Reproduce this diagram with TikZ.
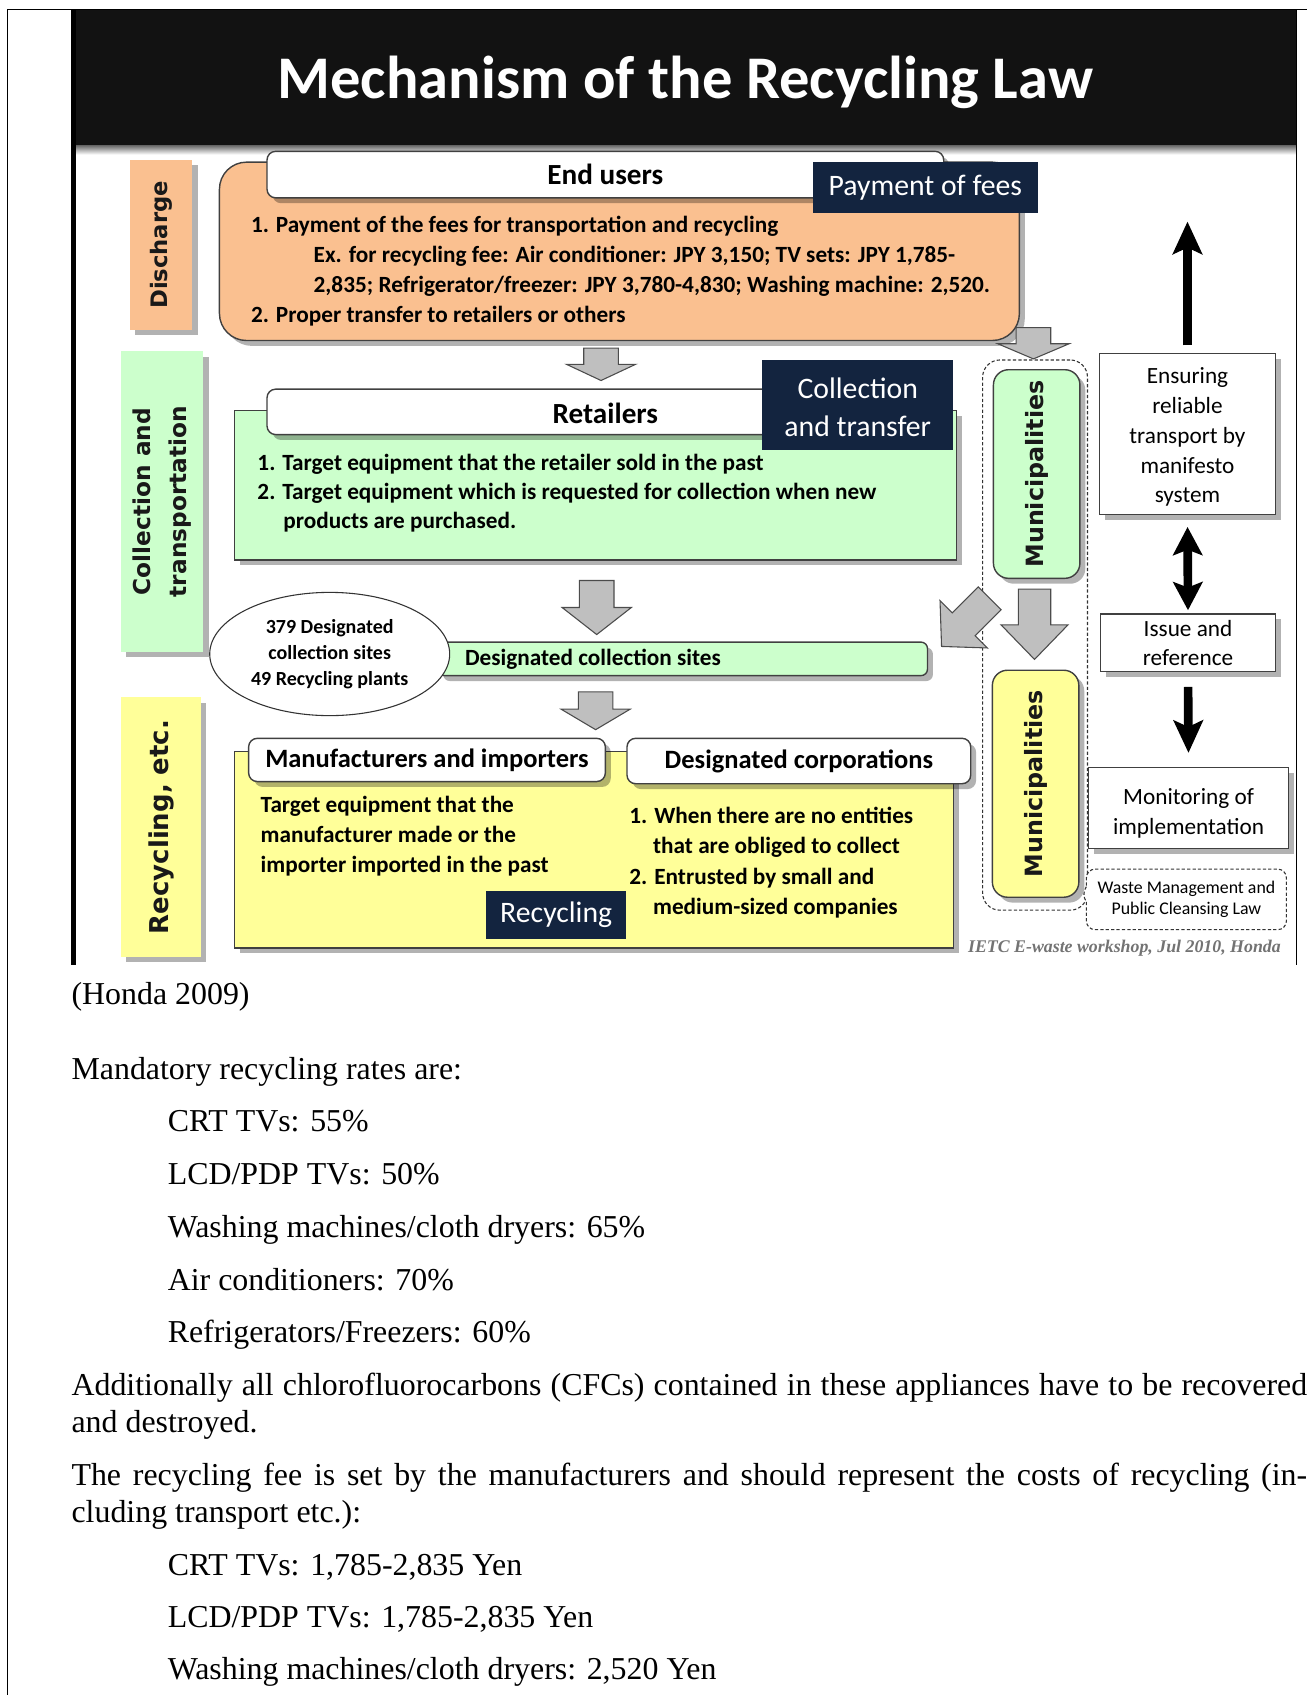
\documentclass[tikz,border=0pt]{standalone}
\usepackage{fontspec}
\setmainfont{Liberation Serif}
\newfontfamily\slidefont{Carlito}
\newfontfamily\labelfont{DejaVu Sans}
\usetikzlibrary{positioning,fit,shadows,arrows.meta,shapes.geometric,shapes.callouts}

\definecolor{navy}{HTML}{13243F}
\definecolor{orangefill}{HTML}{FAC090}
\definecolor{greenfill}{HTML}{CCFFCC}
\definecolor{yellowfill}{HTML}{FFFF99}

% gray block arrow, tip at the origin
\tikzset{
  pics/grayarrow/.style n args={4}{code={%
    \draw[fill=black!25, draw=black!70, line width=1pt] (-#3,-#1) -- (#3,-#1) -- (#3,-#2) -- (#4,-#2) -- (0,0) -- (-#4,-#2) -- (-#3,-#2) -- cycle;
  }}
}

\begin{document}
\begin{tikzpicture}[x=1pt, y=-1pt,
  every node/.style={inner sep=0pt},
  shadowed/.style={drop shadow={shadow xshift=5pt, shadow yshift=-5pt, fill=black, opacity=0.3}},
  box/.style={draw=black!75, line width=1.3pt, shadowed},
  head/.style={box, fill=white, rounded corners=8pt},
  headtxt/.style={font=\slidefont\bfseries\fontsize{27}{32}\selectfont},
  subtxt/.style={font=\slidefont\bfseries\fontsize{24.5}{30}\selectfont},
  navybox/.style={fill=navy},
  navytxt/.style={text=white, align=center, font=\slidefont\fontsize{27.5}{35}\selectfont},
  body/.style={anchor=base west, font=\slidefont\bfseries\fontsize{21.5}{28}\selectfont},
  sidetext/.style={rotate=90, align=center, text=black!90, font=\labelfont\bfseries\fontsize{21.5}{33}\selectfont},
  note/.style={box, fill=white, line width=1pt},
  notetxt/.style={align=center, font=\slidefont\fontsize{21.5}{27.5}\selectfont},
  blackarrow/.style={line width=8pt, -{Stealth[width=27pt, length=30pt, inset=6pt]}},
  blackboth/.style={line width=8pt, {Stealth[width=27pt, length=26pt, inset=5pt]}-{Stealth[width=27pt, length=26pt, inset=5pt]}},
  prose/.style={anchor=base west, font=\fontsize{29.5}{34}\selectfont}
]
\useasboundingbox (0,0) rectangle (1209,1568);

% page frame and slide
\draw[line width=1.3pt] (7,1568) -- (7,9) -- (1209,9);
\fill[black!93] (66,9) rectangle (1199,135);
\shade[top color=black!55, bottom color=white] (70,135) rectangle (1199,143);
\draw[line width=4pt] (68,9) -- (68,893);
\draw[line width=1pt] (1199,9) -- (1199,893);
\node[text=white, font=\slidefont\bfseries\fontsize{56}{60}\selectfont] (title) at (634,76) {Mechanism of the Recycling Law};

% stage labels
\node[fill=orangefill, shadowed, fit={(120,148) (178,305)}] (discharge) {};
\node[sidetext, font=\labelfont\bfseries\fontsize{21}{25}\selectfont] (dischargetxt) at (discharge.center) {Discharge};
\node[fill=greenfill, shadowed, fit={(112,325) (188,603)}] (collect) {};
\node[sidetext] (collecttxt) at (collect.center) {Collection and\\transportation};
\node[fill=yellowfill, shadowed, fit={(112,645) (186,885)}] (recyc) {};
\node[sidetext, font=\labelfont\bfseries\fontsize{24}{28}\selectfont] (recyctxt) at (recyc.center) {Recycling, etc.};

% end users
\node[box, fill=orangefill, rounded corners=25pt, fit={(203,150) (943,315)}] (endusers) {};
\node[head, fit={(247,140) (873,183)}] (userhead) {};
\node[headtxt] (usertxt) at (userhead.center) {End users};
\node[navybox, fit={(752,150) (960,197)}] (fees) {};
\node[navytxt] (feestxt) at (fees.center) {Payment of fees};
\node[body] (u1) at (232,215) {1. Payment of the fees for transportation and recycling};
\node[body] (u2) at (290,243) {Ex. for recycling fee: Air conditioner: JPY 3,150; TV sets: JPY 1,785-};
\node[body] (u3) at (290,271) {2,835; Refrigerator/freezer: JPY 3,780-4,830; Washing machine: 2,520.};
\node[body] (u4) at (232,298) {2. Proper transfer to retailers or others};

% municipalities
\node[draw=black!80, dash pattern=on 3pt off 2pt, line width=1pt, rounded corners=16pt, fit={(909,333) (1006,842)}] (munis) {};
\node[box, fill=greenfill, rounded corners=14pt, fit={(919,342) (999,535)}] (muniup) {};
\node[sidetext, font=\labelfont\bfseries\fontsize{22}{26}\selectfont] (muniuptxt) at (muniup.center) {Municipalities};
\node[box, fill=yellowfill, rounded corners=14pt, fit={(918,620) (998,830)}] (munilow) {};
\node[sidetext, font=\labelfont\bfseries\fontsize{22}{26}\selectfont] (munilowtxt) at (munilow.center) {Municipalities};

% block arrows
\pic at (556,352) {grayarrow={30}{15}{16}{32}};
\pic at (552,587) {grayarrow={50}{25}{16}{32}};
\pic at (551,675) {grayarrow={35}{19}{16}{32}};
\pic at (956,332) {grayarrow={29}{14}{16}{33}};
\pic at (957,610) {grayarrow={65}{32}{15}{31}};
\pic[rotate=-45] at (871,598) {grayarrow={63}{29}{15}{31}};

% retailers
\node[box, fill=greenfill, fit={(217,380) (885,518)}] (retailers) {};
\node[head, fit={(247,360) (760,402)}] (retailhead) {};
\node[headtxt] (retailtxt) at (560,382) {Retailers};
\node[navybox, fit={(705,333) (882,416)}] (transfer) {};
\node[navytxt] (transfertxt) at ([yshift=-2pt]transfer.center) {Collection\\and transfer};
\node[body] (r1) at (238,435) {1. Target equipment that the retailer sold in the past};
\node[body] (r2) at (238,462) {2. Target equipment which is requested for collection when new};
\node[body] (r3) at (262,489) {products are purchased.};

% designated collection sites
\node[box, fill=greenfill, rounded corners=6pt, fit={(405,594) (858,625)}] (sites) {};
\node[body] (sitestxt) at (430,616) {Designated collection sites};
\node[ellipse, draw=black!80, line width=1pt, fill=white, minimum width=222pt, minimum height=114pt, align=center, font=\slidefont\bfseries\fontsize{18.5}{24}\selectfont] (plants) at (305,605) {379 Designated\\collection sites\\49 Recycling plants};

% recycling
\node[box, fill=yellowfill, fit={(217,695) (882,877)}] (recycling) {};
\node[head, fit={(230,683) (560,723)}] (makers) {};
\node[subtxt] (makerstxt) at (makers.center) {Manufacturers and importers};
\node[head, fit={(580,683) (898,725)}] (corps) {};
\node[subtxt] (corpstxt) at (corps.center) {Designated corporations};
\node[body] (m1) at (241,752) {Target equipment that the};
\node[body] (m2) at (241,779) {manufacturer made or the};
\node[body] (m3) at (241,807) {importer imported in the past};
\node[body] (c1) at (582,762) {1. When there are no entities};
\node[body] (c2) at (604,790) {that are obliged to collect};
\node[body] (c3) at (582,818) {2. Entrusted by small and};
\node[body] (c4) at (604,846) {medium-sized companies};
\node[navybox, fit={(450,824) (579,869)}] (recyclingtag) {};
\node[navytxt] (recyclingtxt) at (recyclingtag.center) {Recycling};

% right panel
\node[note, fit={(1017,327) (1180,476)}] (manifest) {};
\node[notetxt] (manifesttxt) at ([yshift=-3pt]manifest.center) {Ensuring\\reliable\\transport by\\manifesto\\system};
\node[note, fit={(1018,568) (1180,621)}] (issue) {};
\node[notetxt, font=\slidefont\fontsize{21.5}{27}\selectfont] (issuetxt) at (issue.center) {Issue and\\reference};
\node[note, fit={(1007,710) (1192,785)}] (monitor) {};
\node[notetxt, font=\slidefont\fontsize{21.5}{27}\selectfont] (monitortxt) at ([yshift=-5pt]monitor.center) {Monitoring of\\implementation};
\node[rectangle callout, callout absolute pointer={(1000,827)}, callout pointer width=14pt, draw=black!80, dash pattern=on 3pt off 2pt, line width=1pt, rounded corners=8pt, fill=white, fit={(1005,804) (1190,860)}] (wastelaw) {};
\node[align=center, font=\slidefont\fontsize{16.5}{20}\selectfont] (wastetxt) at (wastelaw.center) {Waste Management and\\Public Cleansing Law};
\coordinate (up) at (1098.5,205);
\draw[blackarrow, shorten <=7pt] (manifest.north) -- (up);
\draw[blackboth, shorten <=11pt, shorten >=3pt] (manifest.south) -- (issue.north);
\draw[blackarrow, shorten <=14pt, shorten >=13pt] (issue.south) -- (monitor.north);

\node[anchor=base east, text=black!55, font=\bfseries\itshape\fontsize{16.5}{20}\selectfont] (credit) at (1185,881) {IETC E-waste workshop, Jul 2010, Honda};

% text below the slide
\node[prose] (source) at (66,929) {(Honda 2009)};
\node[prose] (rates) at (66,999) {Mandatory recycling rates are:};
\foreach \t [count=\i] in {CRT TVs: 55\%, LCD/PDP TVs: 50\%, Washing machines/cloth dryers: 65\%, Air conditioners: 70\%, Refrigerators/Freezers: 60\%}
  \node[prose] (rate\i) at (155,{1047+48.8*(\i-1)}) {\t};
\node[prose] (cfc1) at (66,1291) {\makebox[1143pt][s]{Additionally all chlorofluorocarbons (CFCs) contained in these appliances have to be recovered}};
\node[prose] (cfc2) at (66,1325) {and destroyed.};
\node[prose] (fee1) at (66,1374) {\makebox[1143pt][s]{The recycling fee is set by the manufacturers and should represent the costs of recycling (in-}};
\node[prose] (fee2) at (66,1408) {cluding transport etc.):};
\foreach \t [count=\i] in {{CRT TVs: 1,785-2,835 Yen}, {LCD/PDP TVs: 1,785-2,835 Yen}, {Washing machines/cloth dryers: 2,520 Yen}}
  \node[prose] (yen\i) at (155,{1457+48.5*(\i-1)}) {\t};
\end{tikzpicture}
\end{document}
